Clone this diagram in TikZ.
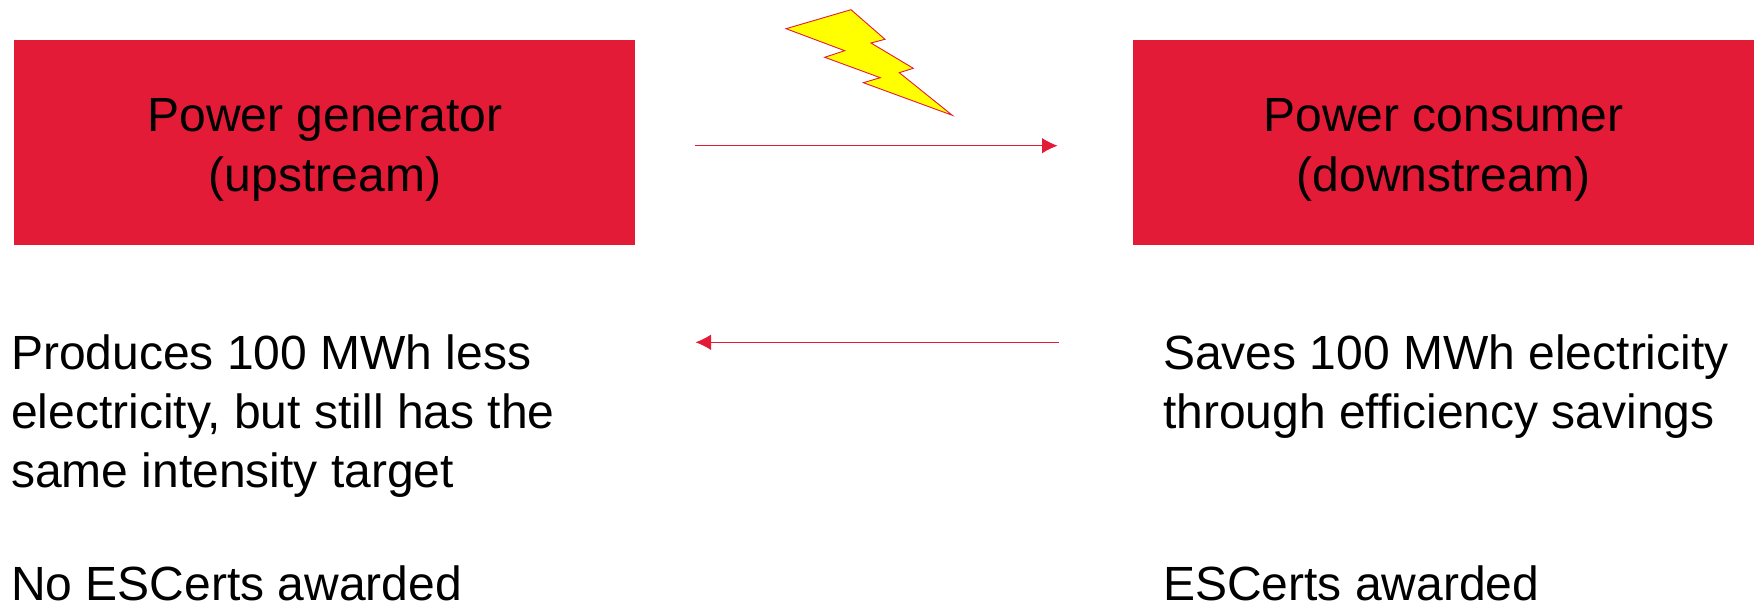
\documentclass[tikz,border=0pt]{standalone}
\usepackage{fontspec}
\setmainfont{Liberation Sans}
\usetikzlibrary{arrows.meta}
\definecolor{boxred}{RGB}{227,27,55}
\definecolor{boltyellow}{RGB}{255,255,0}
\tikzset{
    partybox/.style={fill=boxred, minimum width=621pt, minimum height=205pt, inner sep=0pt},
    boxlabel/.style={inner sep=0pt, align=center, font=\fontsize{48}{60}\selectfont},
    bodytext/.style={anchor=north west, inner sep=0pt, align=left, font=\fontsize{48}{58.7}\selectfont},
    flow/.style={draw=boxred, line width=0.9pt, -{Latex[length=15.5pt,width=15.5pt]}}
}
\begin{document}
\begin{tikzpicture}[x=1pt,y=-1pt]
    \useasboundingbox (0,0) rectangle (1754,605);

    % Boxes
    \node[partybox] (generator) at (324.5,142) {};
    \node[partybox] (consumer) at (1443.5,142) {};
    \node[boxlabel] (generatorlabel) at (325,150) {Power generator\\(upstream)};
    \node[boxlabel] (consumerlabel) at (1443.5,150) {Power consumer\\(downstream)};

    % Lightning bolt
    \draw[draw=boxred, fill=boltyellow, line width=0.9pt] (786,28.7) -- (851,9.7) -- (885,39.3) -- (871,43) -- (913.3,68.3) -- (899.3,72.7) -- (952.3,115.3) -- (863.3,82.7) -- (880.3,77.7) -- (824.7,57.3) -- (844.7,50.7) -- cycle;

    % Flows
    \coordinate (flowtopstart) at (695,145.7);
    \coordinate (flowtopend) at (1057.5,145.7);
    \coordinate (flowbottomstart) at (1058.5,342.3);
    \coordinate (flowbottomend) at (695.5,342.3);
    \draw[flow] (flowtopstart) -- (flowtopend);
    \draw[flow] (flowbottomstart) -- (flowbottomend);

    % Left text
    \node[bodytext] (generatortext) at (11,335) {Produces 100 MWh less\\electricity, but still has the\\same intensity target};
    \node[bodytext, text depth=0pt] (generatorcerts) at (11,566) {No ESCerts awarded};

    % Right text
    \node[bodytext] (consumertext) at (1163,335) {Saves 100 MWh electricity\\through efficiency savings};
    \node[bodytext, text depth=0pt] (consumercerts) at (1163,566) {ESCerts awarded};
\end{tikzpicture}
\end{document}
